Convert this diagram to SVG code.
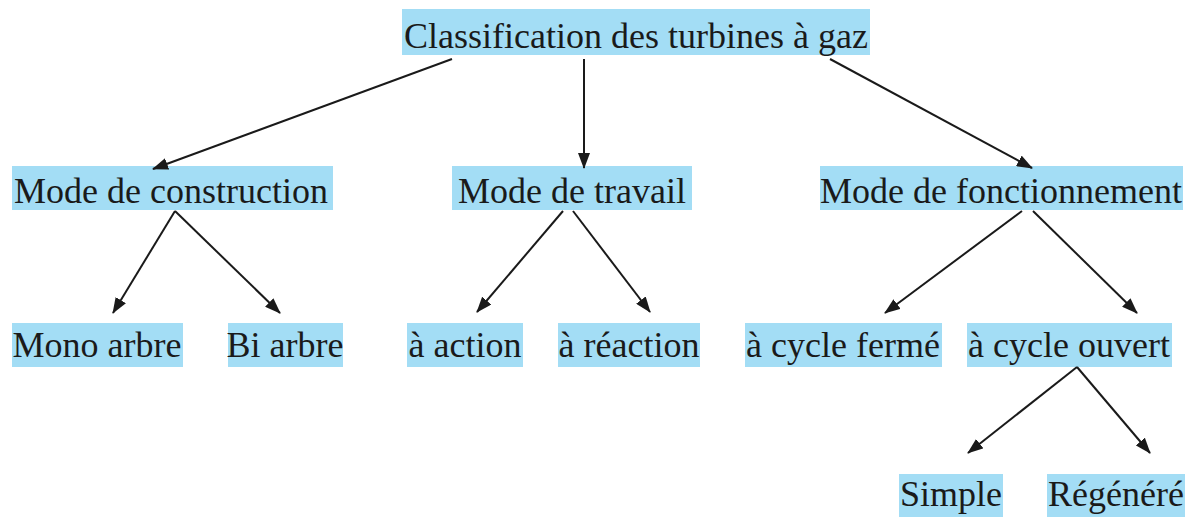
<svg xmlns="http://www.w3.org/2000/svg" width="1198" height="517" viewBox="0 0 1198 517">
  <style>
    .box { fill: #a3ddf5; }
    .lbl { font-family: "Liberation Serif", "Times New Roman", serif; font-size: 36px; fill: #1a1a1a; text-anchor: middle; }
    .edge { stroke: #1a1a1a; stroke-width: 2; fill: none; marker-end: url(#arrow); }
  </style>
  <defs>
    <marker id="arrow" markerUnits="userSpaceOnUse" markerWidth="16" markerHeight="12" refX="15" refY="6" orient="auto">
      <path d="M0,0 L16,6 L0,12 Z" fill="#1a1a1a"/>
    </marker>
  </defs>
  <rect width="1198" height="517" fill="#ffffff"/>

  <g id="n-root">
    <rect class="box" x="402" y="9" width="468" height="46"/>
    <text class="lbl" x="636" y="48">Classification des turbines à gaz</text>
  </g>
  <g id="n-construction">
    <rect class="box" x="12" y="166" width="321" height="44"/>
    <text class="lbl" x="171" y="203">Mode de construction</text>
  </g>
  <g id="n-travail">
    <rect class="box" x="452" y="166" width="240" height="44"/>
    <text class="lbl" x="572" y="203">Mode de travail</text>
  </g>
  <g id="n-fonctionnement">
    <rect class="box" x="820" y="166" width="363" height="44"/>
    <text class="lbl" x="1001" y="203">Mode de fonctionnement</text>
  </g>
  <g id="n-mono">
    <rect class="box" x="12" y="323" width="171" height="44"/>
    <text class="lbl" x="97" y="357">Mono arbre</text>
  </g>
  <g id="n-bi">
    <rect class="box" x="228" y="323" width="115" height="44"/>
    <text class="lbl" x="285" y="357">Bi arbre</text>
  </g>
  <g id="n-action">
    <rect class="box" x="407" y="323" width="116" height="44"/>
    <text class="lbl" x="465" y="357">à action</text>
  </g>
  <g id="n-reaction">
    <rect class="box" x="558" y="323" width="142" height="44"/>
    <text class="lbl" x="629" y="357">à réaction</text>
  </g>
  <g id="n-ferme">
    <rect class="box" x="745" y="323" width="197" height="44"/>
    <text class="lbl" x="843" y="357">à cycle fermé</text>
  </g>
  <g id="n-ouvert">
    <rect class="box" x="967" y="323" width="205" height="44"/>
    <text class="lbl" x="1069" y="357">à cycle ouvert</text>
  </g>
  <g id="n-simple">
    <rect class="box" x="899" y="474" width="104" height="43"/>
    <text class="lbl" x="951" y="506">Simple</text>
  </g>
  <g id="n-regenere">
    <rect class="box" x="1047" y="474" width="138" height="43"/>
    <text class="lbl" x="1116" y="506">Régénéré</text>
  </g>

  <g id="connectors">
    <line class="edge" x1="452" y1="59" x2="153" y2="169"/>
    <line class="edge" x1="584" y1="59" x2="584" y2="168"/>
    <line class="edge" x1="830" y1="59" x2="1032" y2="168"/>
    <line class="edge" x1="175" y1="211" x2="113" y2="313"/>
    <line class="edge" x1="175" y1="211" x2="280" y2="313"/>
    <line class="edge" x1="563" y1="211" x2="477" y2="312"/>
    <line class="edge" x1="573" y1="211" x2="650" y2="312"/>
    <line class="edge" x1="1022" y1="211" x2="885" y2="313"/>
    <line class="edge" x1="1033" y1="211" x2="1137" y2="313"/>
    <line class="edge" x1="1077" y1="367" x2="968" y2="453"/>
    <line class="edge" x1="1077" y1="367" x2="1150" y2="453"/>
  </g>
</svg>
